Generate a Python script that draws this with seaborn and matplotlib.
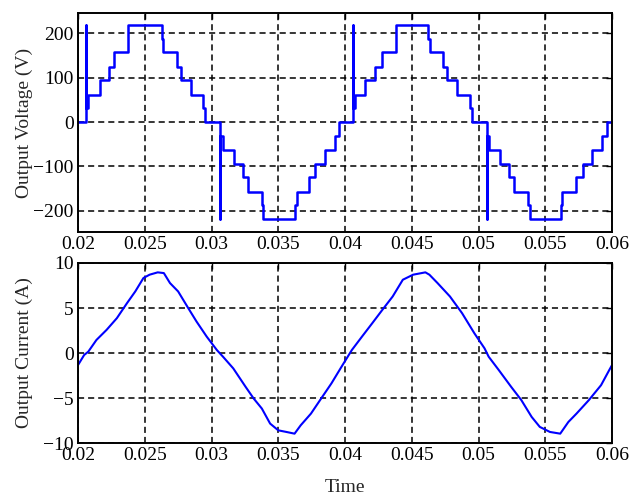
import numpy as np
import pandas as pd
import matplotlib
matplotlib.use('Agg')
import matplotlib.pyplot as plt
from matplotlib.ticker import FuncFormatter
import seaborn as sns

sns.set_style('white')
plt.rcParams['font.family'] = ['Liberation Serif', 'DejaVu Serif']
plt.rcParams['axes.unicode_minus'] = True

# output voltage: staircase switching instants (s) and the level held after each one (V)
volt_t = [0.02000, 0.02060, 0.02062, 0.02077, 0.02165, 0.02232, 0.02272, 0.02377,
          0.02627, 0.02635, 0.02744, 0.02772, 0.02846, 0.02934, 0.02951,
          0.03064, 0.03066, 0.03084, 0.03169, 0.03233, 0.03276, 0.03376, 0.03384,
          0.03626, 0.03638, 0.03733, 0.03775, 0.03850, 0.03925, 0.03957,
          0.04058, 0.04060, 0.04075, 0.04150, 0.04225, 0.04275, 0.04382,
          0.04620, 0.04637, 0.04736, 0.04766, 0.04837, 0.04936, 0.04949,
          0.05061, 0.05063, 0.05081, 0.05161, 0.05229, 0.05266, 0.05373, 0.05386,
          0.05616, 0.05624, 0.05730, 0.05785, 0.05848, 0.05923, 0.05960, 0.06000]
volt_v = [0, 219, 31, 62, 94, 125, 157, 219,
          188, 157, 125, 94, 62, 31, 0,
          -219, -31, -62, -94, -125, -157, -188, -219,
          -188, -157, -125, -94, -62, -31, 0,
          219, 31, 62, 94, 125, 157, 219,
          188, 157, 125, 94, 62, 31, 0,
          -219, -31, -62, -94, -125, -157, -188, -219,
          -188, -157, -125, -94, -62, -31, 0, 0]

# output current samples (s, A)
curr_t = [0.02000, 0.02046, 0.02077, 0.02138, 0.02214, 0.02291, 0.02367, 0.02429,
          0.02490, 0.02536, 0.02597, 0.02643, 0.02689, 0.02750, 0.02826, 0.02888,
          0.02964, 0.03040, 0.03086, 0.03163, 0.03255, 0.03316, 0.03377, 0.03439,
          0.03500, 0.03561, 0.03622, 0.03668, 0.03745, 0.03821, 0.03898, 0.03974,
          0.04051, 0.04127, 0.04204, 0.04280, 0.04357, 0.04433, 0.04510, 0.04602,
          0.04632, 0.04693, 0.04786, 0.04877, 0.04969, 0.05045, 0.05076, 0.05152,
          0.05244, 0.05321, 0.05398, 0.05459, 0.05535, 0.05612, 0.05673, 0.05734,
          0.05826, 0.05918, 0.05979, 0.06000]
curr_i = [-1.34, -0.22, 0.15, 1.45, 2.57, 3.87, 5.54, 6.84,
          8.33, 8.70, 8.96, 8.88, 7.77, 6.84, 4.98, 3.49,
          1.82, 0.33, -0.41, -1.71, -3.75, -5.06, -6.17, -7.84,
          -8.59, -8.77, -8.96, -8.03, -6.73, -5.06, -3.38, -1.52,
          0.33, 1.82, 3.31, 4.80, 6.28, 8.14, 8.70, 8.96,
          8.70, 7.77, 6.28, 4.42, 2.19, 0.52, -0.41, -1.90,
          -3.75, -5.24, -7.10, -8.21, -8.77, -8.96, -7.66, -6.73,
          -5.24, -3.57, -1.90, -1.34]

x_ticks = [0.02, 0.025, 0.03, 0.035, 0.04, 0.045, 0.05, 0.055, 0.06]
volt_ticks = [-200, -100, 0, 100, 200]
curr_ticks = [-10, -5, 0, 5, 10]

volt = pd.DataFrame({'t': volt_t, 'v': volt_v})
curr = pd.DataFrame({'t': curr_t, 'i': curr_i})

fig = plt.figure(figsize=(6.41, 4.95), dpi=100)
ax1 = fig.add_axes([0.1217, 0.5313, 0.8331, 0.4424])
ax2 = fig.add_axes([0.1217, 0.1050, 0.8331, 0.3637])

sns.lineplot(data=volt, x='t', y='v', ax=ax1, color='#0000ff', lw=1.8,
             drawstyle='steps-post', estimator=None, sort=False)
sns.lineplot(data=curr, x='t', y='i', ax=ax2, color='#0000ff', lw=1.5,
             estimator=None, sort=False)

for ax in (ax1, ax2):
    ax.set_xlim(0.02, 0.06)
    ax.set_xticks(x_ticks)
    ax.xaxis.set_major_formatter(FuncFormatter(lambda v, p: f'{v:g}'))
    ax.grid(True, color='black', linestyle=(0, (4, 2.6)), lw=1.1)
    ax.tick_params(direction='in', length=4, width=1, labelsize=14, pad=3,
                   top=True, right=True, colors='black')
    for s in ax.spines.values():
        s.set_color('black')
        s.set_linewidth(1.4)
    ax.set_xlabel('')

ax1.set_ylim(-248, 246)
ax1.set_yticks(volt_ticks)
ax1.set_ylabel('Output Voltage (V)', fontsize=14)
ax1.yaxis.set_label_coords(-0.085, 0.5)

ax2.set_ylim(-10, 10)
ax2.set_yticks(curr_ticks)
ax2.set_ylabel('Output Current (A)', fontsize=14)
ax2.yaxis.set_label_coords(-0.085, 0.5)
ax2.set_xlabel('Time', fontsize=14)
ax2.xaxis.set_label_coords(0.5, -0.2)

fig.savefig('out.png', dpi=100, facecolor='white')
